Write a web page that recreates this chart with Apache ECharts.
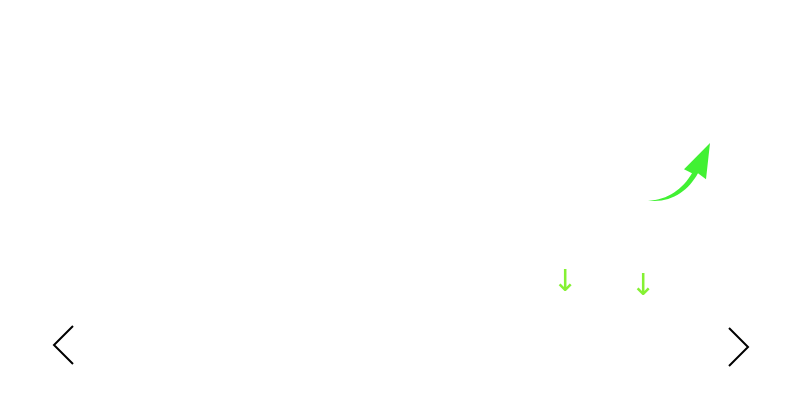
<!DOCTYPE html>
<html><head><meta charset="utf-8">
<script src="https://cdn.jsdelivr.net/npm/echarts@6/dist/echarts.min.js"></script>
<style>html,body{margin:0;background:#fff}#c{width:800px;height:400px}</style>
</head><body><div id="c"></div>
<script>
const downArrowX = [565, 643];
const downArrowY = [283, 287];
const curvedArrow = [[679, 172]];
const navLabels = ['prev', 'next'];
const chart = echarts.init(document.getElementById('c'));
chart.setOption({
  animation: false,
  grid: {left: 0, right: 0, top: 0, bottom: 0},
  xAxis: {type: 'value', min: 0, max: 800, show: false},
  yAxis: {type: 'value', min: 0, max: 400, inverse: true, show: false},
  series: [
    {type: 'scatter', symbolSize: 1, itemStyle: {color: 'transparent'},
     data: downArrowX.map((x, i) => [x, downArrowY[i]]),
     label: {show: true, position: 'inside', formatter: '↓', fontSize: 30, color: '#66ee00', fontFamily: 'DejaVu Sans'}},
    {type: 'scatter', data: curvedArrow, symbolSize: [62, 58],
     symbol: 'path://M0,57 C20,57 35,45 44,30 L36,26 L62,0 L58,36 L50,30 C40,48 22,60 0,57 Z',
     itemStyle: {color: '#11ee00'}}
  ],
  graphic: [
    {type: 'polyline', name: navLabels[0], shape: {points: [[73, 326], [54, 345], [73, 364]]}, style: {stroke: '#000', lineWidth: 2, fill: null}},
    {type: 'polyline', name: navLabels[1], shape: {points: [[729, 328], [748, 347], [729, 366]]}, style: {stroke: '#000', lineWidth: 2, fill: null}}
  ]
});
</script></body></html>
